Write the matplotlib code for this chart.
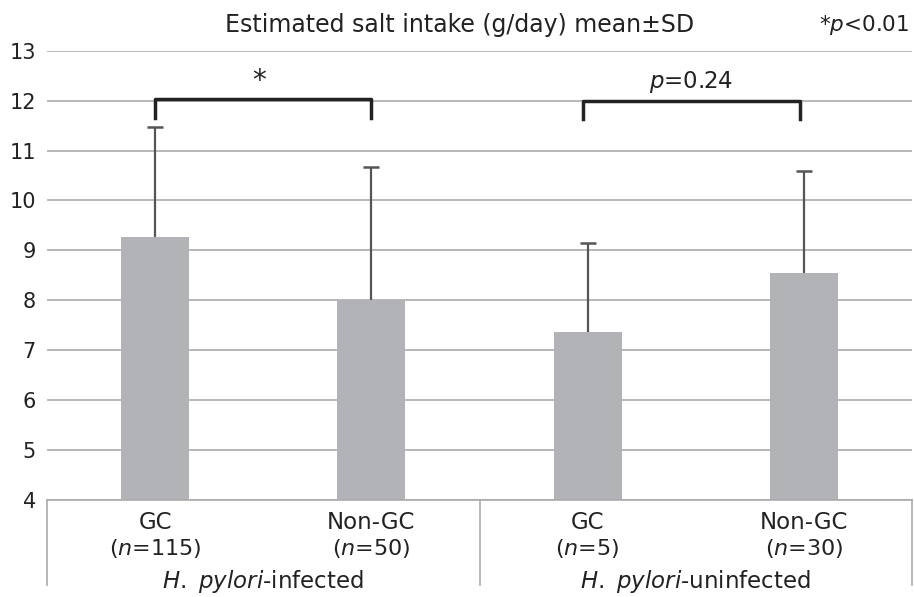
import numpy as np
import matplotlib.pyplot as plt

# data
groups = ["H. pylori-infected", "H. pylori-uninfected"]
cats = ["GC", "Non-GC", "GC", "Non-GC"]
n_vals = [115, 50, 5, 30]
means = [9.26, 8.0, 7.37, 8.55]
sds = [2.21, 2.67, 1.77, 2.04]

plt.rcParams['font.family'] = ['DejaVu Sans']
plt.rcParams['mathtext.fontset'] = 'dejavusans'

fig = plt.figure(figsize=(9.14, 5.97), dpi=100)
ax = fig.add_axes([47/914, 1 - 500/597, (912 - 47)/914, (500 - 50.7)/597])

x = np.arange(len(means))
tops = np.array(means) + np.array(sds)
ax.bar(x, means, width=0.315, color="#b2b3b7", zorder=2)
# error bars, upper side only
ax.vlines(x, means, tops, color="#555555", linewidth=1.6, zorder=3)
ax.plot(x, tops, linestyle="none", marker="_", markersize=12, markeredgewidth=1.8,
        color="#555555", zorder=3)

ax.set_xlim(-0.5, 3.5)
ax.set_ylim(4, 13)
ax.set_yticks(range(4, 14))
ax.yaxis.grid(True, color="#ababab", linewidth=1.2)
ax.set_axisbelow(True)
ax.tick_params(axis="y", length=0, pad=8, labelsize=15, labelcolor="#222222")
ax.set_xticks([])
for s in ["top", "right", "left"]:
    ax.spines[s].set_visible(False)
ax.spines["bottom"].set_color("#ababab")
ax.spines["bottom"].set_linewidth(1.2)

# category labels below the axis
trans = ax.get_xaxis_transform()
for i in range(len(cats)):
    ax.text(x[i], -0.05, cats[i], transform=trans, ha="center", va="center",
            fontsize=16.5, color="#222222")
    ax.text(x[i], -0.109, "($\\it{n}$=%d)" % n_vals[i], transform=trans,
            ha="center", va="center", fontsize=16, color="#222222")
for j, g in enumerate(groups):
    name, rest = g.split("-", 1)
    lab = "$\\it{" + name.replace(" ", "\\ ") + "}$-" + rest
    ax.text(2 * j + 0.5, -0.182, lab, transform=trans, ha="center", va="center",
            fontsize=16.5, color="#222222")

# group separators
for xs in [-0.5, 1.5, 3.5]:
    ax.plot([xs, xs], [0, -0.19], transform=trans, color="#ababab",
            linewidth=1.2, clip_on=False)

# significance brackets
ax.plot([0, 0, 1, 1], [11.65, 12.04, 12.04, 11.65], color="#222222", linewidth=2.5, zorder=4)
ax.plot([1.98, 1.98, 2.98, 2.98], [11.63, 11.99, 11.99, 11.63], color="#222222", linewidth=2.5, zorder=4)
ax.text(0.48, 12.12, "*", ha="center", va="bottom", fontsize=20, color="#222222")
ax.text(2.48, 12.12, "$\\it{p}$=0.24", ha="center", va="bottom", fontsize=16.5, color="#222222")

fig.text(0.503, 1 - 25/597, "Estimated salt intake (g/day) mean\u00b1SD", ha="center", va="center",
         fontsize=17, color="#222222")
fig.text(909/914, 1 - 25/597, "*$\\it{p}$<0.01", ha="right", va="center",
         fontsize=15.5, color="#222222")

fig.savefig("out.png", dpi=100)
